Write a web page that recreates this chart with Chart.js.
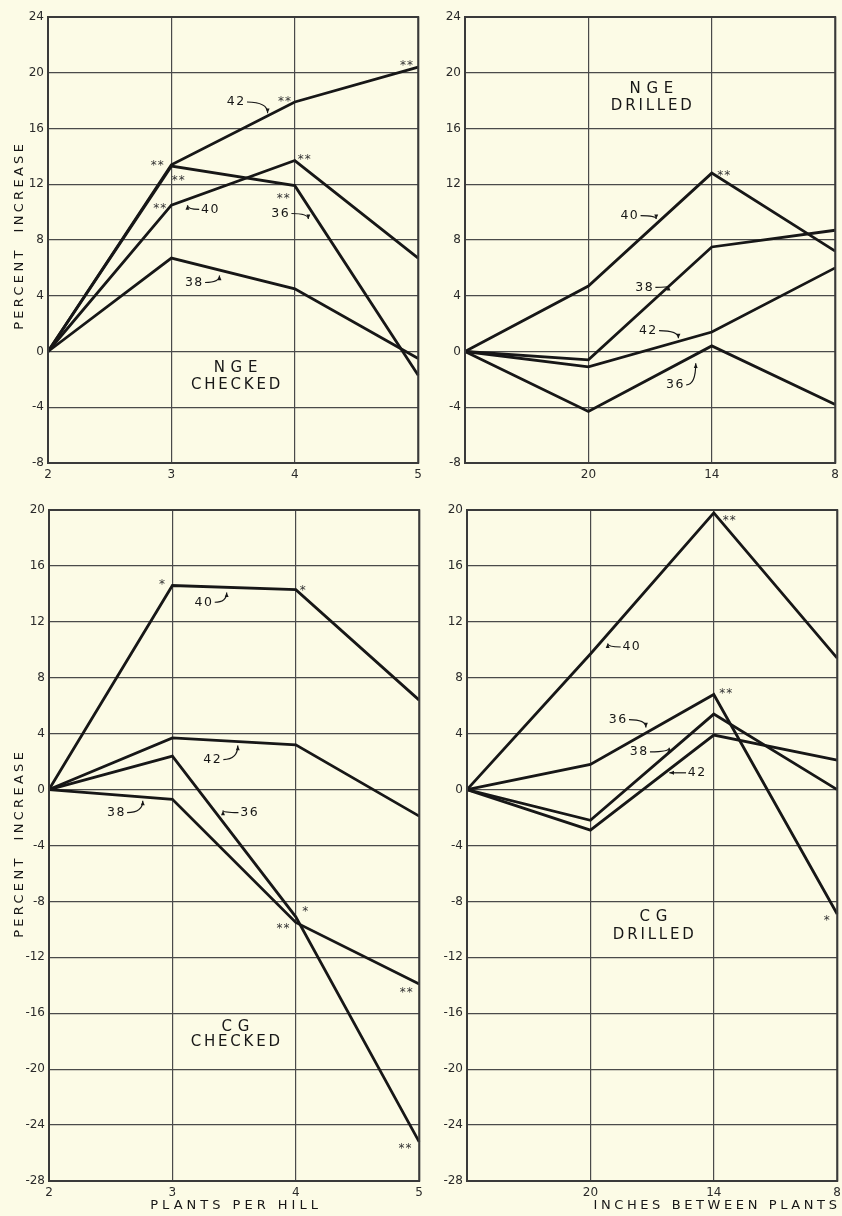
<!DOCTYPE html>
<html>
<head>
<meta charset="utf-8">
<script src="https://cdn.jsdelivr.net/npm/chart.js@4.4.1/dist/chart.umd.min.js"></script>
<style>
  body { margin: 0; background: #fcfbe6; overflow: hidden; }
  #wrap { position: relative; width: 842px; height: 1216px; overflow: hidden; }
  canvas { position: absolute; }
</style>
</head>
<body>
<div id="wrap">
  <canvas id="tl" width="427" height="500" style="left:0;top:0;width:427px;height:500px"></canvas>
  <canvas id="tr" width="423" height="500" style="left:421px;top:0;width:423px;height:500px"></canvas>
  <canvas id="bl" width="428" height="723" style="left:0;top:493px;width:428px;height:723px"></canvas>
  <canvas id="br" width="425" height="723" style="left:421px;top:493px;width:425px;height:723px"></canvas>
</div>
<script>
// x categories
const plantsPerHill = ['2', '3', '4', '5'];
const inchesBetween = ['', '20', '14', '8'];
const varieties = ['36', '38', '40', '42'];

// NGE checked (percent increase)
const ngeChk36 = [0, 13.3, 11.9, -1.7];
const ngeChk38 = [0, 6.7, 4.5, -0.5];
const ngeChk40 = [0, 10.5, 13.7, 6.7];
const ngeChk42 = [0, 13.4, 17.9, 20.4];

// NGE drilled
const ngeDr36 = [0, -4.3, 0.4, -3.8];
const ngeDr38 = [0, -0.6, 7.5, 8.7];
const ngeDr40 = [0, 4.7, 12.8, 7.2];
const ngeDr42 = [0, -1.1, 1.4, 6.0];

// CG checked
const cgChk36 = [0, 2.4, -9.1, -25.2];
const cgChk38 = [0, -0.7, -9.5, -13.9];
const cgChk40 = [0, 14.6, 14.3, 6.4];
const cgChk42 = [0, 3.7, 3.2, -1.9];

// CG drilled
const cgDr36 = [0, 1.8, 6.8, -8.9];
const cgDr38 = [0, -2.2, 5.4, 0.0];
const cgDr40 = [0, 9.7, 19.8, 9.4];
const cgDr42 = [0, -2.9, 3.9, 2.1];

const ink = '#171717';
const font = '"DejaVu Sans", sans-serif';

// curve labels [text, x index, y value, tip x, tip y], asterisks, panel names
const notesTL = {
  labels: [['42', 1.52, 17.9, 1.78, 17.1], ['40', 1.31, 10.2, 1.13, 10.5],
           ['36', 1.88, 9.9, 2.11, 9.5], ['38', 1.18, 4.95, 1.39, 5.45]],
  stars: [['**', 0.89, 13.6], ['**', 1.06, 12.55], ['**', 0.91, 10.5], ['**', 1.92, 18.2],
          ['**', 2.08, 14.0], ['**', 1.91, 11.25], ['**', 2.91, 20.8]],
  name: [['N G E', 1.52, -1.2], ['CHECKED', 1.52, -2.4]],
  yTitle: 237
};
const notesTR = {
  labels: [['40', 1.33, 9.75, 1.55, 9.5], ['38', 1.45, 4.6, 1.65, 4.7],
           ['42', 1.48, 1.5, 1.73, 0.95], ['36', 1.70, -2.4, 1.87, -0.85]],
  stars: [['**', 2.1, 12.9]],
  name: [['N G E', 1.51, 18.8], ['DRILLED', 1.51, 17.6]]
};
const notesBL = {
  labels: [['40', 1.25, 13.4, 1.44, 14.1], ['42', 1.32, 2.15, 1.53, 3.15],
           ['38', 0.54, -1.65, 0.76, -0.8], ['36', 1.62, -1.65, 1.41, -1.5]],
  stars: [['*', 0.92, 14.95], ['*', 2.06, 14.5], ['*', 2.08, -8.5], ['**', 1.9, -9.7],
          ['**', 2.9, -14.3], ['**', 2.89, -25.4]],
  name: [['C G', 1.51, -17.0], ['CHECKED', 1.51, -18.1]],
  yTitle: 352,
  xTitle: 'PLANTS PER HILL'
};
const notesBR = {
  labels: [['40', 1.33, 10.2, 1.14, 10.45], ['36', 1.22, 5.0, 1.45, 4.45],
           ['38', 1.39, 2.7, 1.64, 3.0], ['42', 1.86, 1.2, 1.64, 1.2]],
  stars: [['**', 2.1, 7.1], ['**', 2.13, 19.5], ['*', 2.92, -9.1]],
  name: [['C G', 1.51, -9.15], ['DRILLED', 1.51, -10.4]],
  xTitle: 'INCHES BETWEEN PLANTS'
};

function text(ctx, s, x, y, size, spacing) {
  ctx.font = size + 'px ' + font;
  ctx.letterSpacing = spacing + 'px';
  ctx.textAlign = 'center';
  ctx.textBaseline = 'middle';
  ctx.fillText(s, x + spacing / 2, y);
  return ctx.measureText(s).width;
}

const frame = {
  id: 'frame',
  afterDatasetsDraw(chart) {
    const a = chart.chartArea, ctx = chart.ctx;
    ctx.save();
    ctx.strokeStyle = '#3a3a3a';
    ctx.lineWidth = 2;
    ctx.strokeRect(a.left, a.top, a.right - a.left, a.bottom - a.top);
    ctx.restore();
  }
};

function notesPlugin(n) {
  return {
    id: 'notes',
    afterDraw(chart) {
      const ctx = chart.ctx, xs = chart.scales.x, ys = chart.scales.y;
      const P = (i, v) => [xs.getPixelForValue(i), ys.getPixelForValue(v)];
      ctx.save();
      ctx.fillStyle = ink;
      ctx.strokeStyle = ink;
      n.labels.forEach(([s, i, v, ti, tv]) => {
        const [x, y] = P(i, v);
        const [tx, ty] = P(ti, tv);
        const w = text(ctx, s, x, y, 12.5, 1.5);
        const sx = tx > x ? x + w / 2 + 2 : x - w / 2 - 1;
        const cx = tx, cy = y;
        ctx.lineWidth = 1.2;
        ctx.beginPath();
        ctx.moveTo(sx, y);
        ctx.quadraticCurveTo(cx, cy, tx, ty);
        ctx.stroke();
        let ang = Math.atan2(ty - cy, tx - cx);
        if (Math.abs(ty - cy) < 0.5 && Math.abs(tx - cx) < 0.5) ang = Math.atan2(ty - y, tx - sx);
        ctx.beginPath();
        ctx.moveTo(tx, ty);
        ctx.lineTo(tx - 5 * Math.cos(ang - 0.4), ty - 5 * Math.sin(ang - 0.4));
        ctx.lineTo(tx - 5 * Math.cos(ang + 0.4), ty - 5 * Math.sin(ang + 0.4));
        ctx.closePath();
        ctx.fill();
      });
      ctx.fillStyle = '#333';
      n.stars.forEach(([s, i, v]) => {
        const [x, y] = P(i, v);
        ctx.font = '12px ' + font;
        ctx.letterSpacing = '1px';
        ctx.textAlign = 'center';
        ctx.textBaseline = 'alphabetic';
        ctx.fillText(s, x, y + 7);
      });
      ctx.fillStyle = ink;
      n.name.forEach(([s, i, v]) => {
        const [x, y] = P(i, v);
        if (s.indexOf(' ') > 0) text(ctx, s, x, y, 15, 0.5);
        else text(ctx, s, x, y, 15, 2.8);
      });
      if (n.yTitle) {
        ctx.save();
        ctx.translate(20, n.yTitle);
        ctx.rotate(-Math.PI / 2);
        text(ctx, 'PERCENT  INCREASE', 0, 0, 13, 3.3);
        ctx.restore();
      }
      if (n.xTitle) {
        const a = chart.chartArea;
        if (n.xTitle === 'PLANTS PER HILL') {
          text(ctx, n.xTitle, (a.left + a.right) / 2, a.bottom + 25, 13, 4);
        } else {
          text(ctx, n.xTitle, a.right - 122, a.bottom + 25, 13, 3.6);
        }
      }
      ctx.restore();
    }
  };
}

function panel(id, labels, series, yMin, yMax, axisW, xH, notes) {
  return new Chart(document.getElementById(id), {
    type: 'line',
    data: {
      labels: labels,
      datasets: series.map((d, k) => ({
        label: varieties[k],
        data: d,
        borderColor: ink,
        borderWidth: 2.8,
        pointRadius: 0,
        tension: 0,
        fill: false
      }))
    },
    options: {
      responsive: false,
      animation: false,
      layout: { padding: { top: 17, right: 0, left: 0, bottom: 0 } },
      plugins: { legend: { display: false }, tooltip: { enabled: false } },
      scales: {
        x: {
          type: 'category',
          offset: false,
          grid: { color: '#4a4a4a', lineWidth: 1.2, drawTicks: false },
          border: { display: false },
          ticks: { color: '#2a2a2a', font: { family: font, size: 12 }, padding: 5, maxRotation: 0, autoSkip: false },
          afterFit: s => { s.height = xH; }
        },
        y: {
          min: yMin,
          max: yMax,
          grid: { color: '#4a4a4a', lineWidth: 1.2, drawTicks: false },
          border: { display: false },
          ticks: { stepSize: 4, color: '#2a2a2a', font: { family: font, size: 12 }, padding: 4 },
          afterFit: s => { s.width = axisW; }
        }
      }
    },
    plugins: [frame, notesPlugin(notes)]
  });
}

panel('tl', plantsPerHill, [ngeChk36, ngeChk38, ngeChk40, ngeChk42], -8, 24, 48, 37, notesTL);
panel('tr', inchesBetween, [ngeDr36, ngeDr38, ngeDr40, ngeDr42], -8, 24, 44, 37, notesTR);
panel('bl', plantsPerHill, [cgChk36, cgChk38, cgChk40, cgChk42], -28, 20, 49, 35, notesBL);
panel('br', inchesBetween, [cgDr36, cgDr38, cgDr40, cgDr42], -28, 20, 46, 35, notesBR);
</script>
</body>
</html>
